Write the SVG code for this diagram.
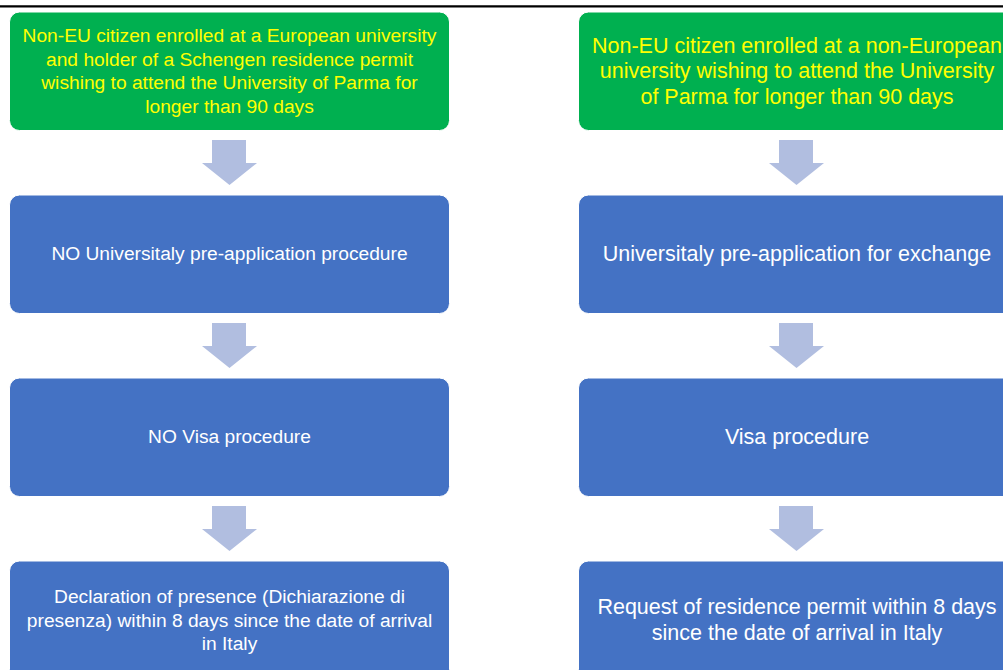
<svg xmlns="http://www.w3.org/2000/svg" width="1003" height="670" viewBox="0 0 1003 670">
<style>
.g{fill:#00B050;stroke:#ffffff;stroke-width:1}
.b{fill:#4472C4;stroke:#ffffff;stroke-width:1}
.t{font-family:"Liberation Sans",Arial,sans-serif;text-anchor:middle}
.ty{fill:#FFFF00}
.tw{fill:#FFFFFF}
.l{font-size:19.2px}
.r{font-size:21.5px}
.arr{fill:#B1BEE0}
</style>
<rect width="1003" height="670" fill="#ffffff"/>
<line x1="0" y1="6.3" x2="1003" y2="6.3" stroke="#000" stroke-width="2.2"/>
<g id="connectors">
<path class="arr" d="M212,140 H246 V163 H257 L229.5,185 L202,163 H212 Z"/>
<path class="arr" d="M212,323 H246 V346 H257 L229.5,368 L202,346 H212 Z"/>
<path class="arr" d="M212,506 H246 V529 H257 L229.5,551 L202,529 H212 Z"/>
<path class="arr" d="M779,140 H813 V163 H824 L796.5,185 L769,163 H779 Z"/>
<path class="arr" d="M779,323 H813 V346 H824 L796.5,368 L769,346 H779 Z"/>
<path class="arr" d="M779,506 H813 V529 H824 L796.5,551 L769,529 H779 Z"/>
</g>
<g id="l1">
<rect class="g" x="9.5" y="12" width="440" height="118.5" rx="10"/>
<text class="t ty l" x="229.5" y="42">Non-EU citizen enrolled at a European university</text>
<text class="t ty l" x="229.5" y="65.5">and holder of a Schengen residence permit</text>
<text class="t ty l" x="229.5" y="89">wishing to attend the University of Parma for</text>
<text class="t ty l" x="229.5" y="112.5">longer than 90 days</text>
</g>
<g id="l2">
<rect class="b" x="9.5" y="195" width="440" height="118.5" rx="10"/>
<text class="t tw l" x="229.5" y="260">NO Universitaly pre-application procedure</text>
</g>
<g id="l3">
<rect class="b" x="9.5" y="378" width="440" height="118.5" rx="10"/>
<text class="t tw l" x="229.5" y="443">NO Visa procedure</text>
</g>
<g id="l4">
<rect class="b" x="9.5" y="561" width="440" height="118.5" rx="10"/>
<text class="t tw l" x="229.5" y="603">Declaration of presence (Dichiarazione di</text>
<text class="t tw l" x="229.5" y="626.5">presenza) within 8 days since the date of arrival</text>
<text class="t tw l" x="229.5" y="650">in Italy</text>
</g>
<g id="r1">
<rect class="g" x="578.5" y="12" width="440" height="118.5" rx="10"/>
<text class="t ty r" x="797" y="52.5">Non-EU citizen enrolled at a non-European</text>
<text class="t ty r" x="797" y="78">university wishing to attend the University</text>
<text class="t ty r" x="797" y="103.5">of Parma for longer than 90 days</text>
</g>
<g id="r2">
<rect class="b" x="578.5" y="195" width="440" height="118.5" rx="10"/>
<text class="t tw r" x="797" y="261">Universitaly pre-application for exchange</text>
</g>
<g id="r3">
<rect class="b" x="578.5" y="378" width="440" height="118.5" rx="10"/>
<text class="t tw r" x="797" y="444">Visa procedure</text>
</g>
<g id="r4">
<rect class="b" x="578.5" y="561" width="440" height="118.5" rx="10"/>
<text class="t tw r" x="797" y="614">Request of residence permit within 8 days</text>
<text class="t tw r" x="797" y="640">since the date of arrival in Italy</text>
</g>
</svg>
